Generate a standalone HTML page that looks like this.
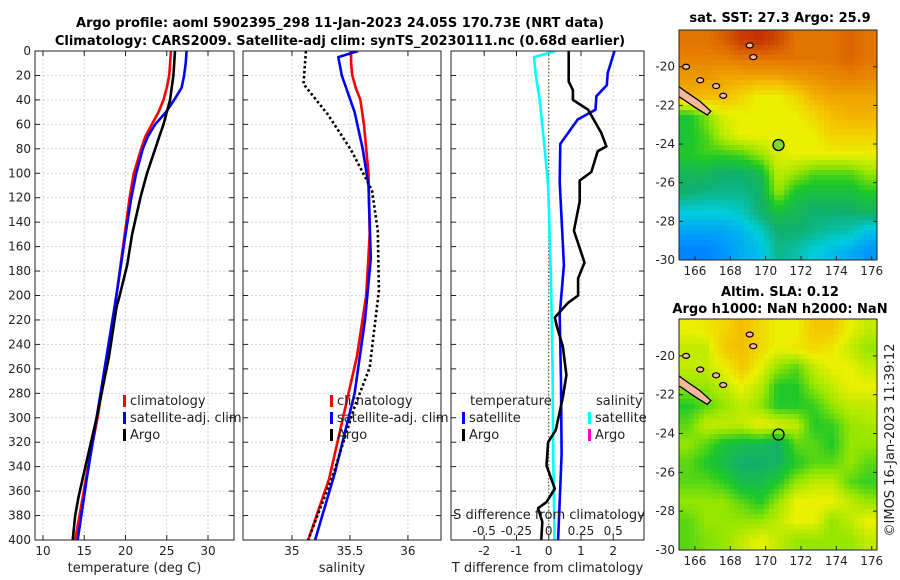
<!DOCTYPE html>
<html><head><meta charset="utf-8">
<style>
html,body{margin:0;padding:0;background:#fff;}
svg{display:block;font-family:"DejaVu Sans","Liberation Sans",sans-serif;}
</style></head>
<body>
<svg id="fig" width="900" height="580" viewBox="0 0 900 580">
<defs>
<clipPath id="c1"><rect x="35" y="51" width="199" height="489"/></clipPath>
<clipPath id="c2"><rect x="243" y="51" width="198" height="489"/></clipPath>
<clipPath id="c3"><rect x="451" y="51" width="193" height="489"/></clipPath>
<clipPath id="cm1"><rect x="679" y="30" width="198" height="230"/></clipPath>
<clipPath id="cm2"><rect x="679" y="319" width="198" height="231"/></clipPath>
</defs>
<text x="340" y="27" text-anchor="middle" font-weight="bold" font-size="13">Argo profile: aoml 5902395_298 11-Jan-2023 24.05S 170.73E (NRT data)</text>
<text x="340" y="45" text-anchor="middle" font-weight="bold" font-size="13">Climatology: CARS2009. Satellite-adj clim: synTS_20230111.nc (0.68d earlier)</text>
<text x="780" y="22" text-anchor="middle" font-weight="bold" font-size="13">sat. SST: 27.3 Argo: 25.9</text>
<text x="780" y="296" text-anchor="middle" font-weight="bold" font-size="13">Altim. SLA: 0.12</text>
<text x="780" y="313" text-anchor="middle" font-weight="bold" font-size="13">Argo h1000: NaN h2000: NaN</text>
<text transform="translate(894,440) rotate(-90)" text-anchor="middle" font-size="13" fill="#222">©IMOS 16-Jan-2023 11:39:12</text>
<g id="g"></g>
</svg>
<script>
// ---- profile data ----
const depthClim=[0,10,20,30,40,50,60,70,80,100,120,150,200,250,300,350,400];
const tempClim=[25.5,25.4,25.3,25.0,24.6,24.0,23.2,22.4,21.9,21.0,20.5,19.9,18.9,17.8,16.6,15.2,13.9];
const tempSat=[27.4,27.3,27.1,26.8,25.9,24.9,23.6,22.7,22.1,21.3,20.7,20.0,18.9,17.7,16.5,15.3,14.2];
const depthArgoT=[0,10,20,30,40,50,60,70,80,100,120,150,175,200,210,250,300,350,365,380,400];
const tempArgo=[26.0,25.9,25.8,25.6,25.4,25.0,24.6,24.1,23.6,22.6,21.8,20.8,20.2,19.3,18.9,18.0,16.5,14.8,14.3,13.9,13.6];
const depthSalClim=[0,10,20,30,40,60,80,100,150,200,250,300,350,400];
const salClim=[35.51,35.51,35.52,35.55,35.59,35.62,35.64,35.66,35.67,35.64,35.56,35.44,35.32,35.14];
const depthSalSat=[0,5,20,50,80,110,170,220,280,345,400];
const salSat=[35.57,35.40,35.43,35.54,35.61,35.66,35.68,35.63,35.54,35.37,35.20];
const depthSalArgo=[0,27,52,81,114,147,196,259,291,345,400];
const salArgo=[35.12,35.10,35.31,35.51,35.69,35.74,35.75,35.67,35.54,35.36,35.14];
const depthDS=[0,5,20,40,80,110,180,260,330,400];
const dSalSat=[0.054,-0.114,-0.1,-0.07,-0.031,-0.005,0.016,0.03,0.035,0.046];
const depthDT=[0,18,28,37,48,56,76,107,175,216,270,330,400];
const dTempSat=[2.04,1.83,1.8,1.48,1.45,0.9,0.36,0.34,0.47,0.34,0.38,0.4,0.29];
const depthDTA=[0,25,32,40,48,67,78,82,99,106,123,147,173,186,200,206,218,225,242,265,283,310,320,339,358,369,374,385,400];
const dTempArgo=[0.62,0.62,0.75,0.75,1.22,1.63,1.79,1.52,1.32,0.96,0.96,0.78,1.11,0.91,0.91,0.6,0.19,0.25,0.44,0.55,0.44,0.22,-0.02,-0.07,0.19,-0.07,-0.33,-0.2,-0.23];
const depthTicks=[0,20,40,60,80,100,120,140,160,180,200,220,240,260,280,300,320,340,360,380,400];
const tTicks=[10,15,20,25,30];
const sTicks=[35,35.5,36];
const dtTicks=[-2,-1,0,1,2];
const dsTicks=[-0.5,-0.25,0,0.25,0.5];
const dsTickLabels=["-0.5","-0.25","0","0.25","0.5"];
// ---- map data (0..1 colour index), rows top(north) to bottom(south) ----
const sstGrid=[
[0.82,0.82,0.85,0.9,0.92,0.88,0.82,0.82,0.82,0.84,0.82],
[0.8,0.8,0.8,0.82,0.82,0.82,0.82,0.82,0.82,0.84,0.82],
[0.76,0.76,0.74,0.74,0.74,0.74,0.76,0.77,0.79,0.8,0.79],
[0.72,0.7,0.7,0.65,0.6,0.6,0.65,0.72,0.74,0.74,0.74],
[0.38,0.48,0.58,0.6,0.6,0.6,0.6,0.65,0.7,0.72,0.72],
[0.38,0.44,0.55,0.6,0.6,0.6,0.6,0.6,0.66,0.66,0.66],
[0.4,0.42,0.42,0.44,0.5,0.58,0.6,0.6,0.6,0.6,0.6],
[0.33,0.33,0.3,0.3,0.34,0.55,0.5,0.44,0.44,0.44,0.5],
[0.3,0.28,0.28,0.28,0.3,0.5,0.38,0.36,0.36,0.36,0.4],
[0.22,0.22,0.22,0.24,0.3,0.36,0.33,0.3,0.3,0.3,0.32],
[0.17,0.17,0.17,0.19,0.23,0.3,0.3,0.28,0.26,0.25,0.2],
[0.12,0.12,0.15,0.18,0.2,0.28,0.26,0.22,0.2,0.18,0.15]];
const slaGrid=[
[0.6,0.62,0.65,0.7,0.65,0.6,0.6,0.68,0.68,0.6,0.55],
[0.55,0.55,0.68,0.7,0.65,0.6,0.62,0.65,0.62,0.55,0.5],
[0.55,0.55,0.6,0.68,0.6,0.5,0.45,0.55,0.6,0.6,0.55],
[0.5,0.5,0.55,0.6,0.55,0.4,0.4,0.5,0.55,0.6,0.6],
[0.4,0.45,0.5,0.55,0.5,0.4,0.4,0.42,0.5,0.55,0.55],
[0.45,0.55,0.55,0.55,0.6,0.58,0.55,0.4,0.42,0.5,0.52],
[0.5,0.45,0.38,0.35,0.35,0.3,0.45,0.45,0.4,0.5,0.5],
[0.45,0.4,0.35,0.3,0.3,0.32,0.4,0.45,0.45,0.5,0.45],
[0.45,0.45,0.42,0.35,0.35,0.4,0.5,0.55,0.55,0.45,0.42],
[0.5,0.5,0.5,0.45,0.4,0.5,0.6,0.6,0.6,0.55,0.5],
[0.45,0.5,0.5,0.5,0.5,0.55,0.6,0.6,0.5,0.55,0.6],
[0.45,0.48,0.5,0.55,0.6,0.55,0.5,0.5,0.5,0.5,0.55]];
const lonTicks=[166,168,170,172,174,176];
const latTicks=[-20,-22,-24,-26,-28,-30];
const argoLon=170.73, argoLat=-24.05;

const NS='http://www.w3.org/2000/svg';
const G=document.getElementById('g');
function mk(tag,attrs,parent,txt){const e=document.createElementNS(NS,tag);for(const k in attrs)e.setAttribute(k,attrs[k]);if(txt!==undefined)e.textContent=txt;(parent||G).appendChild(e);return e;}
const yOf=d=>51+d*(489/400);
const P=[
 {x0:35,x1:234,v0:9.03,v1:33.15,clip:'c1',name:'temperature'},
 {x0:243,x1:441,v0:34.578,v1:36.285,clip:'c2',name:'salinity'},
 {x0:451,x1:644,v0:-3.03,v1:2.955,clip:'c3',name:'difference'}];
const xOf=(p,v)=>p.x0+(v-p.v0)/(p.v1-p.v0)*(p.x1-p.x0);
const xS=v=>xOf(P[2],v*4);

function axes(p,xt,xtl,leftLabels,xlabel){
  const ag=mk('g',{});
  
  
  depthTicks.forEach(d=>{mk('line',{x1:p.x0,x2:p.x1,y1:yOf(d),y2:yOf(d),stroke:'#c4cbe0','stroke-width':0.8,'stroke-dasharray':'2,2'},ag);});
  xt.forEach(v=>{const x=xOf(p,v);mk('line',{x1:x,x2:x,y1:51,y2:540,stroke:'#c4cbe0','stroke-width':0.8,'stroke-dasharray':'2,2'},ag);});
  depthTicks.forEach(d=>{const y=yOf(d);
    mk('line',{x1:p.x0,x2:p.x0+5,y1:y,y2:y,stroke:'#222'},ag);
    mk('line',{x1:p.x1-5,x2:p.x1,y1:y,y2:y,stroke:'#222'},ag);
    if(leftLabels){const t=mk('text',{x:p.x0-4,y:y+4,'text-anchor':'end','font-size':12,fill:'#222'},ag,String(d));
      
      }
  });
  xt.forEach((v,i)=>{const x=xOf(p,v);
    mk('line',{x1:x,x2:x,y1:540,y2:535,stroke:'#222'},ag);
    mk('line',{x1:x,x2:x,y1:51,y2:56,stroke:'#222'},ag);
    const t=mk('text',{x:x,y:555,'text-anchor':'middle','font-size':12,fill:'#222'},ag,xtl[i]);
    
    
  });
  const xl=mk('text',{x:(p.x0+p.x1)/2,y:572,'text-anchor':'middle','font-size':13,fill:'#222'},ag,xlabel);
  
  
}
function frame(p){const r=mk('rect',{x:p.x0,y:51,width:p.x1-p.x0,height:489,fill:'none',stroke:'#222','stroke-width':1});
  
  }
function line(p,xs,ds,col,name,extra,xfun){
  const pts=xs.map((v,i)=>(xfun?xfun(v):xOf(p,v)).toFixed(1)+','+yOf(ds[i]).toFixed(1)).join(' ');
  const a={points:pts,fill:'none',stroke:col,'stroke-width':2.6,'stroke-linejoin':'round','clip-path':'url(#'+p.clip+')'};
  Object.assign(a,extra||{});
  const e=mk('polyline',a);
  
  
}
axes(P[0],tTicks,tTicks.map(String),true,'temperature (deg C)');
axes(P[1],sTicks,sTicks.map(String),false,'salinity');
axes(P[2],dtTicks,dtTicks.map(String),false,'T difference from climatology');
{const z=mk('line',{x1:xOf(P[2],0),x2:xOf(P[2],0),y1:51,y2:540,stroke:'#6b5a2a','stroke-width':1.2,'stroke-dasharray':'1.5,2'});

}
line(P[0],tempClim,depthClim,'#ff0000','temperature-climatology-line');
line(P[0],tempSat,depthClim,'#0000ff','temperature-satellite-line');
line(P[0],tempArgo,depthArgoT,'#000000','temperature-argo-line');
line(P[1],salClim,depthSalClim,'#ff0000','salinity-climatology-line');
line(P[1],salSat,depthSalSat,'#0000ff','salinity-satellite-line');
line(P[1],salArgo,depthSalArgo,'#000000','salinity-argo-line',{'stroke-dasharray':'2.5,2.5','stroke-linecap':'butt'});
line(P[2],dSalSat,depthDS,'#00ffff','salinity-diff-satellite-line',null,xS);
line(P[2],dTempSat,depthDT,'#0000ff','temperature-diff-satellite-line');
line(P[2],dTempArgo,depthDTA,'#000000','temperature-diff-argo-line');
P.forEach(frame);
{const t=mk('text',{x:549,y:519,'text-anchor':'middle','font-size':13,fill:'#222'},G,'S difference from climatology');

}
dsTicks.forEach((v,i)=>{const t=mk('text',{x:xS(v),y:535,'text-anchor':'middle','font-size':12,fill:'#222'},G,dsTickLabels[i]);

});
function legend(x,y,items,name){
  const lg=mk('g',{});
  
  
  items.forEach((it,i)=>{const yy=y+i*17;
    if(it.c) mk('rect',{x:x,y:yy-10,width:3,height:12,fill:it.c},lg);
    mk('text',{x:x+(it.c?7:0),y:yy,'font-size':13,fill:'#222'},lg,it.t);});
}
legend(123,405,[{c:'#ff0000',t:'climatology'},{c:'#0000ff',t:'satellite-adj. clim'},{c:'#000',t:'Argo'}],'temperature-legend');
legend(330,405,[{c:'#ff0000',t:'climatology'},{c:'#0000ff',t:'satellite-adj. clim'},{c:'#000',t:'Argo'}],'salinity-legend');
legend(470,405,[{t:'temperature'}],'difference-legend-temperature-header');
legend(462,422,[{c:'#0000ff',t:'satellite'},{c:'#000',t:'Argo'}],'difference-legend-temperature');
legend(596,405,[{t:'salinity'}],'difference-legend-salinity-header');
legend(588,422,[{c:'#00ffff',t:'satellite'},{c:'#ff00cc',t:'Argo'}],'difference-legend-salinity');

// ---- maps ----
const stops=[[0,[0,60,255]],[0.15,[0,150,255]],[0.22,[0,205,220]],[0.3,[16,176,110]],[0.4,[30,200,40]],[0.5,[150,230,0]],[0.6,[235,240,0]],[0.7,[245,190,0]],[0.8,[232,130,0]],[0.9,[200,60,0]],[1,[170,0,0]]];
function cmap(v){v=Math.max(0,Math.min(1,v));for(let i=1;i<stops.length;i++){if(v<=stops[i][0]){const a=stops[i-1],b=stops[i],t=(v-a[0])/(b[0]-a[0]);const c=a[1].map((q,k)=>Math.round(q+(b[1][k]-q)*t));return 'rgb('+c+')';}}return 'rgb(170,0,0)';}
function drawMap(grid,top,bot,clip,name,fillMarker){
  const L=679,R=877,lon0=165.1,lon1=176.3,latTop=-18.1,latBot=-30;
  const lx=v=>L+(v-lon0)/(lon1-lon0)*(R-L);
  const ly=v=>top+(latTop-v)/(latTop-latBot)*(bot-top);
  const mg=mk('g',{'clip-path':'url(#'+clip+')'});
  
  
  const rows=grid.length,cols=grid[0].length,cell=5;
  for(let y=top;y<bot;y+=cell){for(let x=L;x<R;x+=cell){
    const fr=Math.min(rows-1.001,Math.max(0,(y+cell/2-top)/(bot-top)*rows-0.5));
    const fc=Math.min(cols-1.001,Math.max(0,(x+cell/2-L)/(R-L)*cols-0.5));
    const r0=Math.floor(fr),c0=Math.floor(fc),tr=fr-r0,tc=fc-c0;
    const v=grid[r0][c0]*(1-tr)*(1-tc)+grid[r0][c0+1]*(1-tr)*tc+grid[r0+1][c0]*tr*(1-tc)+grid[r0+1][c0+1]*tr*tc;
    mk('rect',{x:x,y:y,width:cell+0.5,height:cell+0.5,fill:cmap(v)},mg);}}
  mk('polygon',{points:[[164.9,-20.9],[165.5,-21.3],[166.3,-21.8],[166.9,-22.3],[166.7,-22.5],[166,-22.1],[165.2,-21.6],[164.9,-21.5]].map(p=>lx(p[0])+','+ly(p[1])).join(' '),fill:'#f6b89a',stroke:'#000','stroke-width':1.3},mg);
  [[165.5,-20.0],[166.3,-20.7],[167.2,-21.0],[167.6,-21.5],[169.1,-18.9],[169.3,-19.5]].forEach(p=>mk('ellipse',{cx:lx(p[0]),cy:ly(p[1]),rx:3.5,ry:2.5,fill:'#f6b89a',stroke:'#000','stroke-width':1.2},mg));
  const fr=mk('rect',{x:L,y:top,width:R-L,height:bot-top,fill:'none',stroke:'#222'});
  
  
  const m=mk('circle',{cx:lx(argoLon),cy:ly(argoLat),r:5.5,fill:fillMarker?'#7fd830':'none',stroke:'#000','stroke-width':1.3});
  
  
  lonTicks.forEach(v=>{const x=lx(v);mk('line',{x1:x,x2:x,y1:bot,y2:bot-4,stroke:'#222'});
    const t=mk('text',{x:x,y:bot+15,'text-anchor':'middle','font-size':12,fill:'#222'},G,String(v));
    
    });
  latTicks.forEach(v=>{const y=ly(v);mk('line',{x1:L,x2:L+4,y1:y,y2:y,stroke:'#222'});mk('line',{x1:R-4,x2:R,y1:y,y2:y,stroke:'#222'});
    const t=mk('text',{x:L-4,y:y+4,'text-anchor':'end','font-size':12,fill:'#222'},G,String(v));
    
    });
}
drawMap(sstGrid,30,260,'cm1','sst-map',true);
drawMap(slaGrid,319,550,'cm2','sla-map',false);
</script>
</body></html>
